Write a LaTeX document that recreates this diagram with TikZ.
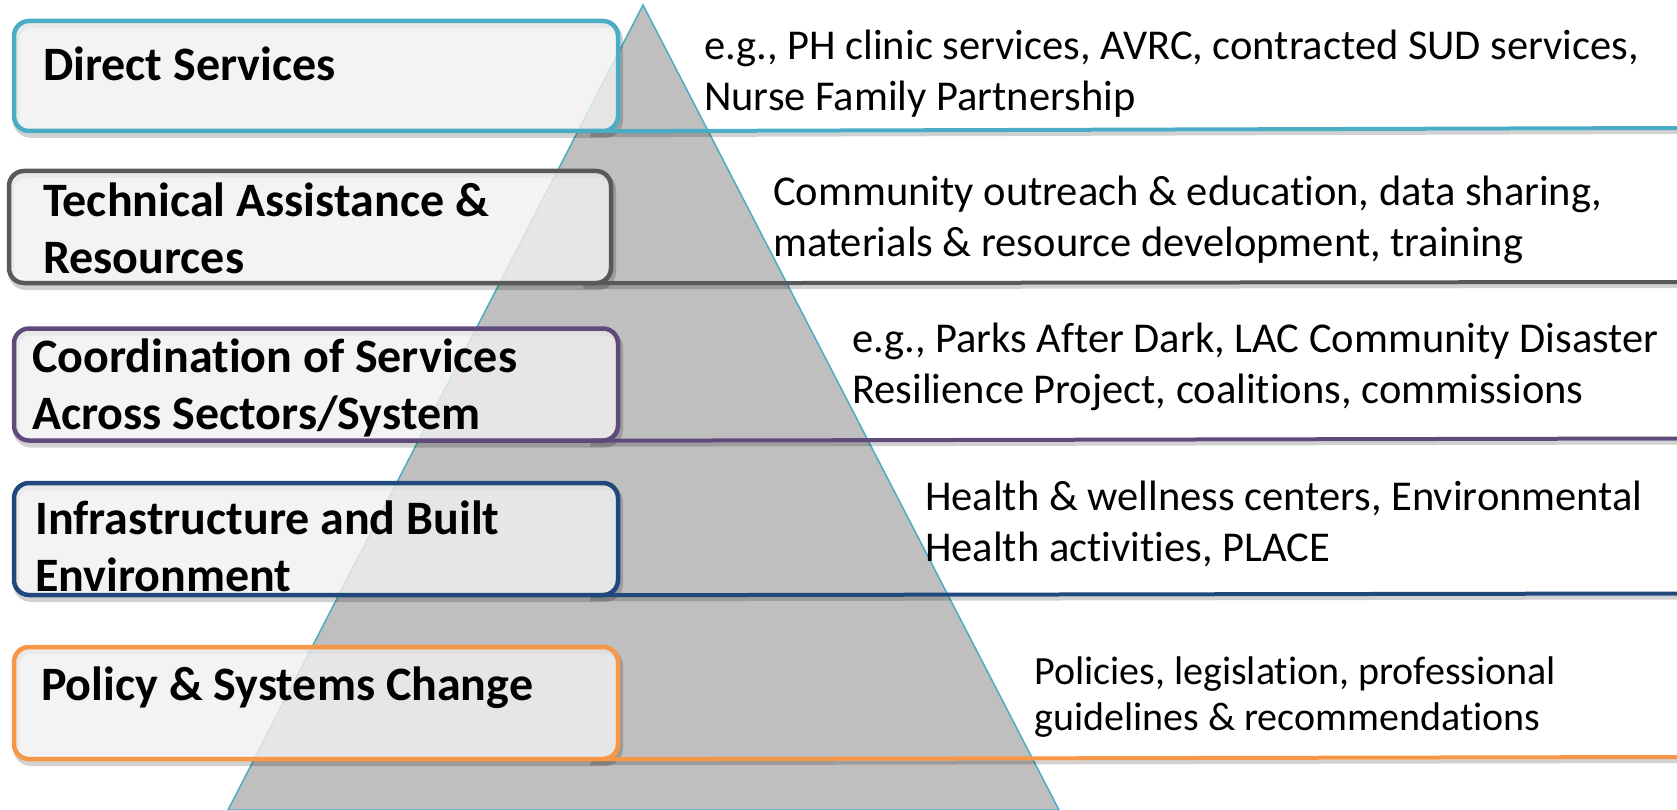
\documentclass[tikz,border=0pt]{standalone}
\usepackage{fontspec}
\setmainfont{Carlito}[Ligatures=NoCommon]
\usepackage{tikz}
\usetikzlibrary{calc,positioning}
\definecolor{tierCyan}{RGB}{75,172,198}
\definecolor{tierGray}{RGB}{89,89,89}
\definecolor{tierPurple}{RGB}{96,74,123}
\definecolor{tierNavy}{RGB}{31,73,125}
\definecolor{tierOrange}{RGB}{247,150,70}
\definecolor{pyrFill}{RGB}{191,191,191}
\definecolor{boxFill}{RGB}{240,240,240}
\tikzset{
  tierbox/.style={rectangle, rounded corners=15pt, line width=4.5pt,
                  fill=boxFill, fill opacity=0.8, minimum width=604pt,
                  minimum height=110pt, inner sep=0pt,
                  preaction={draw=black, draw opacity=0.18, line width=6pt,
                             transform canvas={shift={(2pt,-4pt)}}}},
  tierline/.style={line width=4pt,
                   preaction={draw, black, opacity=0.18, line width=4pt,
                              transform canvas={yshift=-4pt}}},
  tierlbl/.style={anchor=west, align=left, inner sep=0pt,
                  font=\fontsize{48}{57}\selectfont\bfseries},
  tiertxt/.style={anchor=west, align=left, inner sep=0pt,
                  font=\fontsize{42.5}{51}\selectfont},
  pyramid/.style={fill=pyrFill, draw=tierCyan, line width=1.5pt},
}

\begin{document}
\begin{tikzpicture}[x=1pt,y=-1pt]
  \useasboundingbox (0,0) rectangle (1677,810);
  % pyramid
  \coordinate (apex) at (643,5);
  \coordinate (bl) at (228,810);
  \coordinate (br) at (1059,810);
  \draw[pyramid] (apex) -- (br) -- (bl) -- cycle;
  % right-hand ends of the rules
  \coordinate (e1) at (1677,128);
  \coordinate (e2) at (1677,282);
  \coordinate (e3) at (1677,438.5);
  \coordinate (e4) at (1677,593.5);
  \coordinate (e5) at (1677,757);
  % tier boxes
  \node[tierbox, draw=tierCyan]   (b1) at (316,76)  {};
  \node[tierbox, draw=tierGray, minimum width=602pt, minimum height=112pt] (b2) at (310,227) {};
  \node[tierbox, draw=tierPurple, minimum height=112pt] (b3) at (316,384.5) {};
  \node[tierbox, draw=tierNavy, minimum height=112pt]   (b4) at (316,539) {};
  \node[tierbox, draw=tierOrange, minimum height=112pt] (b5) at (316,703) {};
  % rules
  \draw[tierline, tierCyan]   ([xshift=-30pt, yshift=2pt]b1.south east) -- (e1);
  \draw[tierline, tierGray]   ([xshift=-30pt, yshift=2pt]b2.south east) -- (e2);
  \draw[tierline, tierPurple] ([xshift=-30pt, yshift=2pt]b3.south east) -- (e3);
  \draw[tierline, tierNavy]   ([xshift=-30pt, yshift=2pt]b4.south east) -- (e4);
  \draw[tierline, tierOrange] ([xshift=-30pt, yshift=2pt]b5.south east) -- (e5);
  % labels
  \node[tierlbl] (l1) at (43,64)    {Direct Services};
  \node[tierlbl] (l2) at (43,228.5) {Technical Assistance \&\\Resources};
  \node[tierlbl] (l3) at (32,387.5) {Coordination of Services\\Across Sectors/System};
  \node[tierlbl] (l4) at (35,546.5) {Infrastructure and Built\\Environment};
  \node[tierlbl] (l5) at (41,688)   {Policy \& Systems Change};
  % examples
  \node[tiertxt] (t1) at (704,74)   {e.g., PH clinic services, AVRC, contracted SUD services,\\Nurse Family Partnership};
  \node[tiertxt] (t2) at (773,219.5) {Community outreach \& education, data sharing,\\materials \& resource development, training};
  \node[tiertxt] (t3) at (852,367)  {e.g., Parks After Dark, LAC Community Disaster\\Resilience Project, coalitions, commissions};
  \node[tiertxt] (t4) at (925,524)  {Health \& wellness centers, Environmental\\Health activities, PLACE};
  \node[tiertxt, font=\fontsize{40}{46}\selectfont] (t5) at (1034,697)
    {Policies, legislation, professional\\guidelines \& recommendations};
\end{tikzpicture}
\end{document}
